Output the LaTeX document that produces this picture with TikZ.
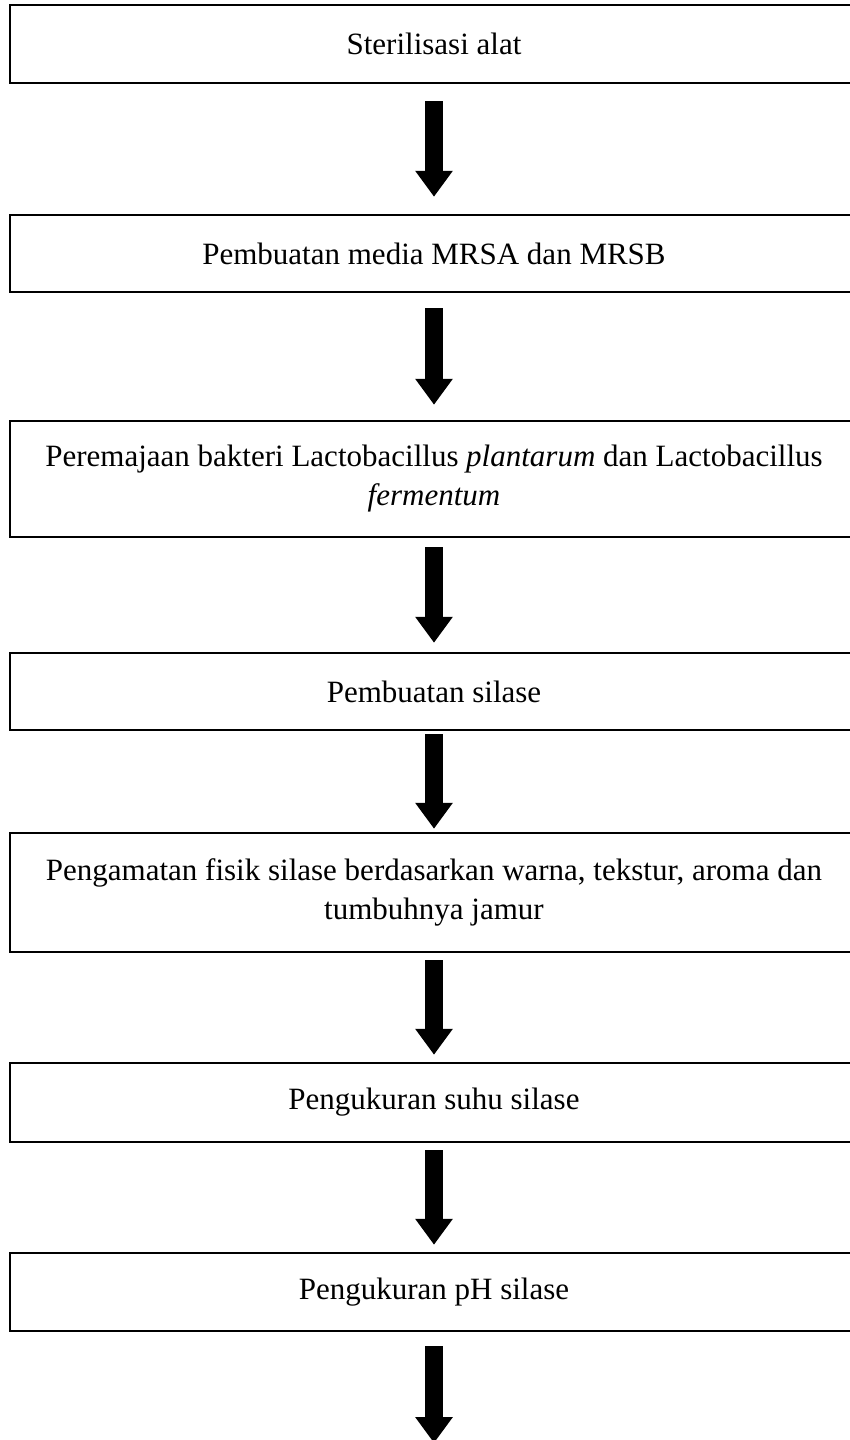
\documentclass[tikz,border=0pt]{standalone}
\usepackage{fontspec}
\setmainfont{Liberation Serif}
\usetikzlibrary{arrows.meta}

\begin{document}
\begin{tikzpicture}[x=1pt,y=-1pt,
  stepbox/.style={draw,rectangle,line width=2.5pt,minimum width=848pt,minimum height=#1pt,inner sep=0pt,align=center,font=\fontsize{31}{39}\selectfont},
  flow/.style={line width=18pt,-{Triangle[width=36pt,length=26pt]}}]
\path[fill=white,use as bounding box] (0,0) rectangle (850,1440);
\node[stepbox=78] (s1) at (434,44) {Sterilisasi alat};
\node[stepbox=77] (s2) at (434,253.5) {Pembuatan media MRSA dan MRSB};
\node[stepbox=116] (s3) at (434,479) {Peremajaan bakteri Lactobacillus \textit{plantarum} dan Lactobacillus\\\textit{fermentum}};
\node[stepbox=77] (s4) at (434,691.5) {Pembuatan silase};
\node[stepbox=119] (s5) at (434,892.5) {Pengamatan fisik silase berdasarkan warna, tekstur, aroma dan\\tumbuhnya jamur};
\node[stepbox=79] (s6) at (434,1102.5) {Pengukuran suhu silase};
\node[stepbox=78] (s7) at (434,1292) {Pengukuran pH silase};
\coordinate (tail) at (434,1443);
\foreach \a/\b/\s in %
{s1/s2/17,s2/s3/15,s3/s4/9,s4/s5/3,s5/s6/7,s6/s7/7} {
   \draw[flow,shorten <=\s pt,shorten >=\s pt] (\a) -- (\b);
}
\draw[flow,shorten <=14pt] (s7) -- (tail);
\end{tikzpicture}
\end{document}
